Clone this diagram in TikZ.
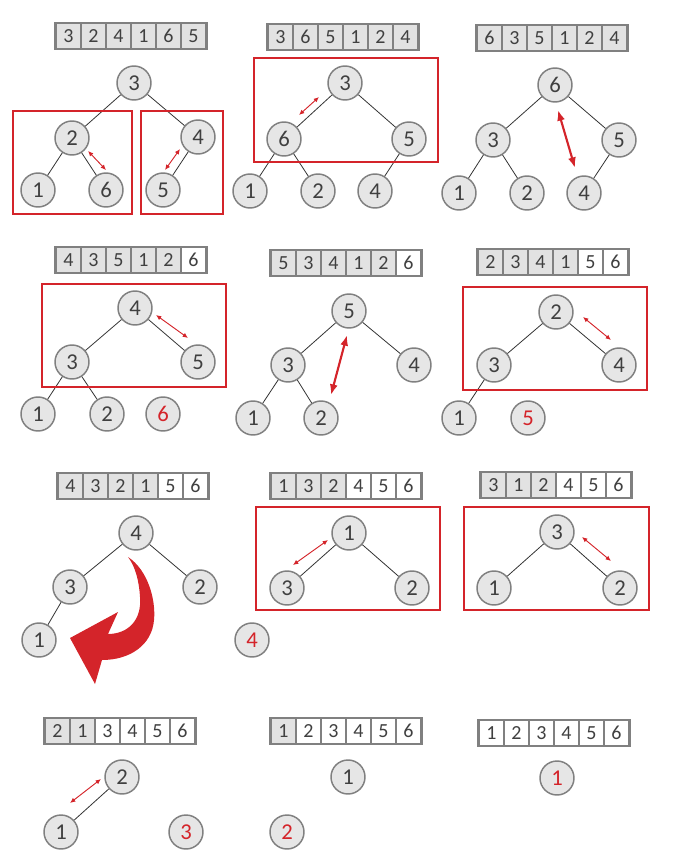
\documentclass[tikz,border=0pt]{standalone}
\usepackage{fontspec}
\setmainfont{Carlito}
\usepackage{tikz}
\usetikzlibrary{arrows.meta}
\definecolor{nodegray}{RGB}{230,230,230}
\definecolor{cellgray}{RGB}{226,226,226}
\definecolor{linegray}{RGB}{128,128,128}
\definecolor{swapred}{RGB}{212,36,42}
\definecolor{digit}{RGB}{64,64,64}
% one array row: name, left x, centre y, values, number of grey cells
\newcommand{\heaprow}[5]{%
  \foreach \v [count=\i] in {#4} {
    \pgfmathsetmacro{\cx}{#2+(\i-0.5)*25}
    \ifnum\i>#5 \def\cf{white}\else\def\cf{cellgray}\fi
    \node[cell,fill=\cf] (#1-\i) at (\cx,#3) {\v};
  }
  \draw[frame] (#1-1.north west) rectangle (#1-6.south east);
}

\begin{document}
\begin{tikzpicture}[x=0.75pt,y=-0.75pt,
every node/.style={text=digit}, key/.style={circle,draw=linegray,line width=1.1pt,
fill=nodegray,minimum size=25.5pt,inner sep=0pt,font=\fontsize{17}{17}\selectfont},
done/.style={key,text=swapred}, cell/.style={draw=linegray,line width=0.9pt,
minimum width=18.75pt,minimum height=18.75pt,inner sep=0pt,font=\fontsize{15}{15}\selectfont},
frame/.style={draw=linegray,line width=1.6pt}, edge/.style={line width=0.6pt,draw=black!80},
sub/.style={draw=swapred,line width=1.5pt},
swap/.style={{Latex[length=4pt,width=3.5pt]}-{Latex[length=4pt,width=3.5pt]},swapred,line width=0.7pt},
bigswap/.style={{Latex[length=8pt,width=6pt]}-{Latex[length=8pt,width=6pt]},swapred,line width=1.6pt}]
\useasboundingbox (0,0) rectangle (678,868);

% step 1
\heaprow{r1}{56}{36}{3,2,4,1,6,5}{6}
\node[key] (s1n3) at (134,83) {3}; \node[key] (s1n2) at (72,138) {2};
\node[key] (s1n4) at (198,137) {4}; \node[key] (s1n1) at (38,190) {1};
\node[key] (s1n6) at (106,190) {6}; \node[key] (s1n5) at (163,190) {5};
\draw[edge] (s1n3)--(s1n2); \draw[edge] (s1n3)--(s1n4); \draw[edge] (s1n2)--(s1n1);
\draw[edge] (s1n2)--(s1n6); \draw[edge] (s1n4)--(s1n5);
\draw[sub] (13,111) rectangle (132,214); \draw[sub] (141,111) rectangle (223,214);
\coordinate (s1a) at (88,151); \coordinate (s1b) at (106,170);
\coordinate (s1c) at (180,149); \coordinate (s1d) at (165,170);
\draw[swap] (s1a)--(s1b); \draw[swap] (s1c)--(s1d);

% step 2
\heaprow{r2}{268}{37}{3,6,5,1,2,4}{6}
\node[key] (s2n3) at (345,83) {3}; \node[key] (s2n6) at (284,139) {6};
\node[key] (s2n5) at (409,139) {5}; \node[key] (s2n1) at (250,191) {1};
\node[key] (s2n2) at (318,191) {2}; \node[key] (s2n4) at (375,191) {4};
\draw[edge] (s2n3)--(s2n6); \draw[edge] (s2n3)--(s2n5); \draw[edge] (s2n6)--(s2n1);
\draw[edge] (s2n6)--(s2n2); \draw[edge] (s2n5)--(s2n4);
\draw[sub] (254,58) rectangle (438,162);
\coordinate (s2a) at (319,97); \coordinate (s2b) at (299,115);
\draw[swap] (s2a)--(s2b);

% step 3
\heaprow{r3}{477}{38}{6,3,5,1,2,4}{6}
\node[key] (s3n6) at (555,85) {6}; \node[key] (s3n3) at (493,140) {3};
\node[key] (s3n5) at (619,140) {5}; \node[key] (s3n1) at (459,193) {1};
\node[key] (s3n2) at (527,193) {2}; \node[key] (s3n4) at (584,193) {4};
\draw[edge] (s3n6)--(s3n3); \draw[edge] (s3n6)--(s3n5); \draw[edge] (s3n3)--(s3n1);
\draw[edge] (s3n3)--(s3n2); \draw[edge] (s3n5)--(s3n4);
\coordinate (s3a) at (558,110); \coordinate (s3b) at (575,168);
\draw[bigswap] (s3a)--(s3b);

% step 4
\heaprow{r4}{56}{260}{4,3,5,1,2,6}{5}
\node[key] (s4n4) at (135,308) {4}; \node[key] (s4n3) at (72,362) {3};
\node[key] (s4n5) at (198,362) {5}; \node[key] (s4n1) at (38,414) {1};
\node[key] (s4n2) at (107,414) {2}; \node[done] (s4n6) at (163,414) {6};
\draw[edge] (s4n4)--(s4n3); \draw[edge] (s4n4)--(s4n5); \draw[edge] (s4n3)--(s4n1);
\draw[edge] (s4n3)--(s4n2);
\draw[sub] (42,284) rectangle (226,387);
\coordinate (s4a) at (156,315); \coordinate (s4b) at (188,338);
\draw[swap] (s4a)--(s4b);

% step 5
\heaprow{r5}{271}{263}{5,3,4,1,2,6}{5}
\node[key] (s5n5) at (349,311) {5}; \node[key] (s5n3) at (288,365) {3};
\node[key] (s5n4) at (414,365) {4}; \node[key] (s5n1) at (253,418) {1};
\node[key] (s5n2) at (321,418) {2};
\draw[edge] (s5n5)--(s5n3); \draw[edge] (s5n5)--(s5n4); \draw[edge] (s5n3)--(s5n1);
\draw[edge] (s5n3)--(s5n2);
\coordinate (s5a) at (347,335); \coordinate (s5b) at (331,395);
\draw[bigswap] (s5a)--(s5b);

% step 6
\heaprow{r6}{478}{262}{2,3,4,1,5,6}{4}
\node[key] (s6n2) at (556,312) {2}; \node[key] (s6n3) at (494,365) {3};
\node[key] (s6n4) at (619,365) {4}; \node[key] (s6n1) at (459,418) {1};
\node[done] (s6n5) at (528,418) {5};
\draw[edge] (s6n2)--(s6n3); \draw[edge] (s6n2)--(s6n4); \draw[edge] (s6n3)--(s6n1);
\draw[sub] (463,287) rectangle (647,390);
\coordinate (s6a) at (583,317); \coordinate (s6b) at (611,340);
\draw[swap] (s6a)--(s6b);

% step 7
\heaprow{r7}{58}{486}{4,3,2,1,5,6}{4}
\node[key] (s7n4) at (136,533) {4}; \node[key] (s7n3) at (70,587) {3};
\node[key] (s7n2) at (200,587) {2}; \node[key] (s7n1) at (39,640) {1};
\draw[edge] (s7n4)--(s7n3); \draw[edge] (s7n4)--(s7n2); \draw[edge] (s7n3)--(s7n1);
\fill[swapred] (128,557) .. controls (148,570) and (156,600) .. (154,620)
  .. controls (152,645) and (130,660) .. (102,660) -- (95,684) -- (70,638)
  -- (118,612) -- (108,634) .. controls (128,634) and (142,620) .. (140,597)
  .. controls (139,580) and (135,566) .. (128,557) -- cycle;

% step 8
\heaprow{r8}{271}{486}{1,3,2,4,5,6}{3}
\node[key] (s8n1) at (349,533) {1}; \node[key] (s8n3) at (287,588) {3};
\node[key] (s8n2) at (412,588) {2}; \node[done] (s8n4) at (252,640) {4};
\draw[edge] (s8n1)--(s8n3); \draw[edge] (s8n1)--(s8n2);
\draw[sub] (256,507) rectangle (440,610);
\coordinate (s8a) at (293,565); \coordinate (s8b) at (328,540);
\draw[swap] (s8a)--(s8b);

% step 9
\heaprow{r9}{481}{485}{3,1,2,4,5,6}{3}
\node[key] (s9n3) at (557,532) {3}; \node[key] (s9n1) at (494,588) {1};
\node[key] (s9n2) at (620,588) {2};
\draw[edge] (s9n3)--(s9n1); \draw[edge] (s9n3)--(s9n2);
\draw[sub] (464,507) rectangle (649,610);
\coordinate (s9a) at (582,537); \coordinate (s9b) at (611,561);
\draw[swap] (s9a)--(s9b);

% step 10
\heaprow{r10}{45}{731}{2,1,3,4,5,6}{2}
\node[key] (s10n2) at (122,777) {2}; \node[key] (s10n1) at (61,832) {1};
\node[done] (s10n3) at (186,832) {3};
\draw[edge] (s10n2)--(s10n1);
\coordinate (s10a) at (70,803); \coordinate (s10b) at (101,779);
\draw[swap] (s10a)--(s10b);

% step 11
\heaprow{r11}{271}{731}{1,2,3,4,5,6}{1}
\node[key] (s11n1) at (348,777) {1}; \node[done] (s11n2) at (287,832) {2};

% step 12
\heaprow{r12}{479}{733}{1,2,3,4,5,6}{0}
\node[done] (s12n1) at (557,778) {1};
\end{tikzpicture}
\end{document}
